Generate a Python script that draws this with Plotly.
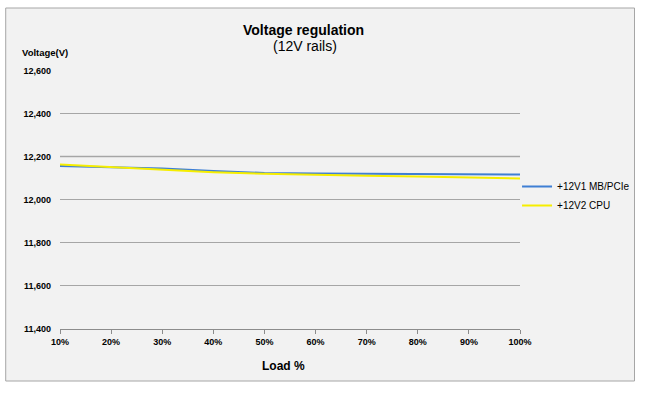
import plotly.graph_objects as go

loads = ["10%", "20%", "30%", "40%", "50%", "60%", "70%", "80%", "90%", "100%"]
v12_1 = [12157, 12150, 12145, 12133, 12124, 12122, 12121, 12120, 12119, 12117]
v12_2 = [12163, 12152, 12140, 12127, 12120, 12114, 12111, 12108, 12103, 12099]
series_names = ["+12V1 MB/PCIe", "+12V2 CPU"]
y_ticks = [11400, 11600, 11800, 12000, 12200, 12400, 12600]

W, H = 647, 397
L, R, T, B = 60, 526, 70, 329


def xp(px):
    return (px - L) / (R - L)


def yp(py):
    return (B - py) / (B - T)


FONT = "Liberation Sans, Arial, sans-serif"

fig = go.Figure()
fig.add_trace(go.Scatter(x=loads, y=v12_1, mode="lines", name=series_names[0],
                         line=dict(color="#3f7fd4", width=2)))
fig.add_trace(go.Scatter(x=loads, y=v12_2, mode="lines", name=series_names[1],
                         line=dict(color="#f6ee00", width=2)))

fig.update_layout(
    width=W, height=H,
    margin=dict(l=L, r=W - R, t=T, b=H - B, pad=0),
    paper_bgcolor="white",
    plot_bgcolor="rgba(0,0,0,0)",
    font=dict(family=FONT, color="#000000"),
    showlegend=True,
    legend=dict(x=xp(523), y=yp(172), xanchor="left", yanchor="top",
                bgcolor="rgba(0,0,0,0)", font=dict(size=10, family=FONT, color="#000"),
                itemwidth=30, tracegroupgap=0),
    shapes=[
        dict(type="rect", xref="paper", yref="paper",
             x0=xp(5), x1=xp(642), y0=yp(381), y1=yp(8),
             fillcolor="#f2f2f2", line=dict(color="#a6a6a6", width=1), layer="below"),
        # lighter emphasized gridline at the 12,200 tick (as in the reference)
        dict(type="line", xref="paper", yref="y", x0=0, x1=1,
             y0=y_ticks[4], y1=y_ticks[4],
             line=dict(color="#cdcdcd", width=2), layer="between"),
    ],
    annotations=[
        dict(text="<b>Voltage regulation</b>", xref="paper", yref="paper",
             x=xp(307), y=yp(30), xanchor="center", yanchor="middle",
             showarrow=False, font=dict(size=14, family=FONT)),
        dict(text="(12V rails)", xref="paper", yref="paper",
             x=xp(308), y=yp(46), xanchor="center", yanchor="middle",
             showarrow=False, font=dict(size=14, family=FONT)),
        dict(text="<b>Voltage(V)</b>", xref="paper", yref="paper",
             x=xp(19), y=yp(53), xanchor="left", yanchor="middle",
             showarrow=False, font=dict(size=9.5, family=FONT)),
        dict(text="<b>Load %</b>", xref="paper", yref="paper",
             x=xp(286), y=yp(366), xanchor="center", yanchor="middle",
             showarrow=False, font=dict(size=12, family=FONT)),
    ],
)

fig.update_xaxes(
    type="category", showgrid=False, showline=True, linecolor="#8c8c8c", linewidth=1,
    ticks="outside", ticklen=4, tickcolor="#8c8c8c", range=[0, len(loads) - 1],
    tickfont=dict(size=9, family=FONT, weight="bold"), zeroline=False,
)
fig.update_yaxes(
    range=[11400, 12602], tickvals=y_ticks, tickformat=",", showgrid=True,
    gridcolor="#a6a6a6", gridwidth=1, showline=False, zeroline=False,
    ticks="", ticklabelstandoff=8,
    tickfont=dict(size=9, family=FONT, weight="bold"),
)

fig.write_html("out.html", config={"displayModeBar": False},
               post_script="document.body.style.margin='0';")
